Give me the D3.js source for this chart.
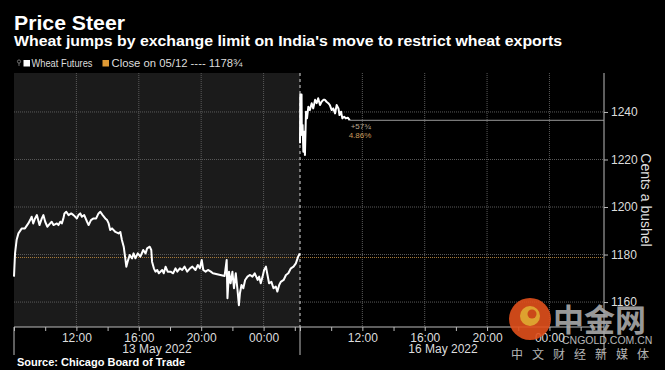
<!DOCTYPE html>
<html><head><meta charset="utf-8">
<script src="https://cdn.jsdelivr.net/npm/d3@7"></script>
<style>
html,body{margin:0;padding:0;background:#000;}
svg{display:block;font-family:"Liberation Sans",Arial,sans-serif;}
</style></head>
<body>
<svg id="c" width="665" height="370"></svg>
<script>
// ---------- data ----------
const titleText = "Price Steer";
const subtitleText = "Wheat jumps by exchange limit on India's move to restrict wheat exports";
const sourceText = "Source: Chicago Board of Trade";
const seriesName = "Wheat Futures";
const refLabel = "Close on 05/12 ---- 1178\u00BE";
const refValue = 1178.75;
const lastValue = 1236.5;
const changeLabels = ["+57\u00BE", "4.86%"];
const yTicks = [1160, 1180, 1200, 1220, 1240];
const yTitle = "Cents a bushel";
const sessionDates = ["2022-05-13", "2022-05-16"];
const sessionLabels = ["13 May 2022", "16 May 2022"];
const sessionStart = ["08:00", "08:00"];
const sessionEnd = ["02:20", "03:30"];

const s1Times = ["08:00","08:04","08:10","08:17","08:30","08:42","08:55","09:02","09:08","09:14","09:21","09:28","09:38","09:47","09:53","10:00","10:08","10:19","10:25","10:32","10:45","10:51","10:58","11:04","11:10","11:14","11:21","11:30","11:40","11:49","12:02","12:08","12:15","12:21","12:30","12:41","12:47","12:56","13:06","13:16","13:25","13:32","13:41","13:51","13:58","14:04","14:10","14:17","14:30","14:42","14:49","14:55","15:02","15:08","15:12","15:17","15:25","15:34","15:40","15:47","15:56","16:06","16:17","16:26","16:32","16:42","16:48","16:51","16:58","17:04","17:11","17:17","17:30","17:36","17:43","17:51","18:02","18:12","18:21","18:28","18:38","18:47","18:56","19:06","19:17","19:26","19:38","19:47","19:55","20:02","20:08","20:17","20:26","20:37","20:45","21:30","21:38","21:41","21:47","21:53","22:00","22:06","22:13","22:19","22:25","22:29","22:35","22:42","22:49","22:58","23:08","23:17","23:26","23:37","23:43","23:49","23:56","00:02","00:09","00:15","00:21","00:30","00:38","00:47","00:53","01:00","01:06","01:17","01:26","01:35","01:45","01:55","02:04","02:13","02:19"];
const s1Values = [1170.7,1180.5,1186.1,1188.9,1191.0,1191.0,1193.1,1194.5,1195.9,1193.1,1195.2,1196.6,1192.4,1195.2,1196.6,1193.8,1191.7,1193.1,1193.8,1192.4,1193.1,1192.4,1193.8,1193.1,1195.2,1197.3,1198.0,1196.6,1197.3,1196.6,1195.2,1196.6,1197.3,1195.9,1196.6,1193.8,1192.4,1194.5,1195.2,1195.2,1197.3,1198.0,1196.6,1195.2,1194.5,1193.1,1190.3,1191.0,1189.5,1188.9,1189.5,1186.1,1183.3,1178.4,1174.9,1177.0,1179.8,1178.4,1180.5,1178.4,1180.5,1179.1,1181.9,1180.5,1182.6,1183.3,1181.9,1177.0,1174.2,1172.8,1173.5,1172.1,1173.5,1172.1,1174.9,1172.8,1172.8,1172.1,1174.2,1172.8,1174.2,1173.5,1174.9,1172.8,1174.2,1174.9,1173.5,1175.6,1174.2,1177.7,1173.5,1172.8,1173.5,1172.8,1172.1,1171.0,1177.7,1161.6,1172.8,1167.9,1172.8,1165.8,1172.1,1165.8,1158.7,1163.7,1167.2,1165.8,1169.3,1170.7,1171.4,1170.7,1172.1,1169.3,1170.7,1167.9,1170.7,1173.5,1174.9,1171.4,1167.9,1168.5,1165.8,1166.5,1164.4,1167.2,1168.5,1169.3,1171.4,1172.1,1174.2,1174.9,1176.3,1179.1,1180.5];

const s2Times = ["08:00","08:01","08:06","08:07","08:10","08:13","08:16","08:19","08:23","08:27","08:32","08:38","08:45","08:51","08:58","09:04","09:10","09:17","09:23","09:30","09:36","09:42","09:49","09:55","10:02","10:08","10:15","10:21","10:28","10:32","10:38","10:43","10:50","10:56","11:04","11:09","11:11"];
const s2Values = [1226.8,1247.4,1247.4,1230.3,1234.5,1223.3,1231.7,1221.9,1240.1,1237.3,1242.2,1240.8,1243.7,1241.5,1245.1,1243.7,1245.8,1242.9,1244.3,1245.1,1245.1,1244.3,1243.7,1242.9,1240.8,1241.5,1239.4,1242.9,1241.5,1238.7,1240.1,1237.3,1238.0,1237.3,1237.6,1236.9,1236.5];

// ---------- helpers ----------
const parse = d3.timeParse("%Y-%m-%d %H:%M");
function toDate(dateStr, hm, startHm) {
  const d = parse(dateStr + " " + hm);
  if (hm < startHm) d.setDate(d.getDate() + 1); // rolls past midnight
  return d;
}
const series = [
  s1Times.map((t,i)=>({t:toDate(sessionDates[0],t,sessionStart[0]), v:s1Values[i]})),
  s2Times.map((t,i)=>({t:toDate(sessionDates[1],t,sessionStart[1]), v:s2Values[i]}))
];

// ---------- layout ----------
const L = 14, M = 300, R = 604, T = 73, B = 327;
const svg = d3.select("#c");
svg.append("rect").attr("width",665).attr("height",370).attr("fill","#000");

const xs = [0,1].map(i => d3.scaleTime()
  .domain([toDate(sessionDates[i], sessionStart[i], sessionStart[i]), toDate(sessionDates[i], sessionEnd[i], sessionStart[i])])
  .range(i===0 ? [L, M] : [M, R]));
const y = d3.scaleLinear().domain([1149.5, 1256.4]).range([B, T]);

// shaded first session
svg.append("rect").attr("x",L).attr("y",T).attr("width",M-L).attr("height",B-T).attr("fill","#1b1b1b");

// grid
const gridCol = "#5a5a5a";
svg.append("g").selectAll("line").data(yTicks).join("line")
  .attr("x1",L).attr("x2",R).attr("y1",d=>y(d)).attr("y2",d=>y(d))
  .attr("stroke",gridCol).attr("stroke-width",1).attr("stroke-dasharray","1,1");

const labelHours = [12,16,20,0];
xs.forEach((x,i)=>{
  const ticks = x.ticks(d3.timeHour.every(2));
  const major = ticks.filter(d => labelHours.includes(d.getHours()));
  svg.append("g").selectAll("line").data(major).join("line")
    .attr("x1",d=>x(d)).attr("x2",d=>x(d)).attr("y1",T).attr("y2",B)
    .attr("stroke",gridCol).attr("stroke-width",1).attr("stroke-dasharray","1,1");
  const ax = d3.axisBottom(x).tickValues(ticks).tickSize(4).tickPadding(2)
    .tickFormat(d => labelHours.includes(d.getHours()) ? d3.timeFormat("%H:%M")(d) : "");
  const g = svg.append("g").attr("transform",`translate(0,${B})`).call(ax);
  g.select(".domain").remove();
  g.selectAll(".tick line").attr("stroke","#bbb");
  g.selectAll("text").attr("fill","#ddd").style("font-size","12px").style("font-family","'Liberation Sans',Arial,sans-serif");
});

// reference line (previous close)
svg.append("line").attr("x1",L).attr("x2",R).attr("y1",y(refValue)).attr("y2",y(refValue))
  .attr("stroke","#a87a3a").attr("stroke-width",1).attr("stroke-dasharray","1,1");

// session separator
svg.append("line").attr("x1",M).attr("x2",M).attr("y1",T).attr("y2",B)
  .attr("stroke","#ddd").attr("stroke-width",1).attr("stroke-dasharray","3,3");

// x axis line and separators
svg.append("line").attr("x1",L).attr("x2",R).attr("y1",B).attr("y2",B).attr("stroke","#bbb");
[L,M,R].forEach(xx=>{
  svg.append("line").attr("x1",xx).attr("x2",xx).attr("y1",B).attr("y2",355).attr("stroke","#bbb");
});
// date labels
svg.append("text").attr("x",(L+M)/2).attr("y",353).attr("text-anchor","middle")
  .attr("fill","#ddd").style("font-size","12px").text(sessionLabels[0]);
svg.append("text").attr("x",443).attr("y",353).attr("text-anchor","middle")
  .attr("fill","#ddd").style("font-size","12px").text(sessionLabels[1]);

// y axis
const ya = d3.axisRight(y).tickValues(yTicks).tickSize(4).tickPadding(3).tickFormat(d3.format("d"));
const gy = svg.append("g").attr("transform",`translate(${R},0)`).call(ya);
gy.select(".domain").remove();
gy.selectAll(".tick line").attr("stroke","#bbb");
gy.selectAll("text").attr("fill","#ddd").style("font-size","12px").style("font-family","'Liberation Sans',Arial,sans-serif");
svg.append("line").attr("x1",R).attr("x2",R).attr("y1",T).attr("y2",B).attr("stroke","#bbb");
svg.append("text").attr("transform",`translate(641,200) rotate(90)`).attr("text-anchor","middle")
  .attr("fill","#ddd").style("font-size","14px").text(yTitle);

// last-value line
const lastPt = series[1][series[1].length-1];
svg.append("line").attr("x1",xs[1](lastPt.t)).attr("x2",R).attr("y1",y(lastValue)).attr("y2",y(lastValue))
  .attr("stroke","#9a9a9a").attr("stroke-width",1);
svg.append("text").attr("x",xs[1](lastPt.t)+1).attr("y",y(lastValue)+9)
  .attr("fill","#b8a690").style("font-size","8px").text(changeLabels[0]);
svg.append("text").attr("x",xs[1](lastPt.t)-1).attr("y",y(lastValue)+18)
  .attr("fill","#c89a5c").style("font-size","8px").text(changeLabels[1]);

// price lines
series.forEach((s,i)=>{
  svg.append("path").datum(s)
    .attr("d", d3.line().x(d=>xs[i](d.t)).y(d=>y(d.v)))
    .attr("fill","none").attr("stroke","#fff").attr("stroke-width",2).attr("stroke-linejoin","round");
});

// titles
svg.append("text").attr("x",14).attr("y",30).attr("fill","#fff")
  .attr("textLength",111).attr("lengthAdjust","spacingAndGlyphs")
  .style("font-size","20px").style("font-weight","bold").text(titleText);
svg.append("text").attr("x",14).attr("y",46).attr("fill","#fff")
  .attr("textLength",548).attr("lengthAdjust","spacingAndGlyphs")
  .style("font-size","15px").style("font-weight","bold").text(subtitleText);

// legend
const lg = svg.append("g").attr("transform","translate(0,63)");
lg.append("circle").attr("cx",19).attr("cy",-1.5).attr("r",1.6).attr("fill","none").attr("stroke","#888").attr("stroke-width",0.8);
lg.append("line").attr("x1",19).attr("x2",19).attr("y1",0).attr("y2",3).attr("stroke","#888").attr("stroke-width",0.8);
lg.append("rect").attr("x",23.5).attr("y",-3).attr("width",6.5).attr("height",6.5).attr("fill","#fff");
lg.append("text").attr("x",31.5).attr("y",3.8).attr("fill","#ddd")
  .attr("textLength",61).attr("lengthAdjust","spacingAndGlyphs").style("font-size","10.5px").text(seriesName);
lg.append("rect").attr("x",102.5).attr("y",-3).attr("width",6.5).attr("height",6.5).attr("fill","#e09a35");
lg.append("text").attr("x",111.5).attr("y",3.8).attr("fill","#ddd")
  .attr("textLength",131).attr("lengthAdjust","spacingAndGlyphs").style("font-size","10.5px").text(refLabel);

// source
svg.append("text").attr("x",17).attr("y",366).attr("fill","#fff")
  .style("font-size","11px").style("font-weight","bold").text(sourceText);

// watermark
const wm = svg.append("g").attr("opacity",0.9);
wm.append("circle").attr("cx",530).attr("cy",319).attr("r",21).attr("fill","#e2501c");
wm.append("circle").attr("cx",530).attr("cy",316).attr("r",10).attr("fill","#f6b335");
wm.append("circle").attr("cx",532).attr("cy",314).attr("r",4.5).attr("fill","#e2501c");
wm.append("text").attr("x",553).attr("y",331).attr("fill","#a9a9a9")
  .style("font-size","31px").style("font-weight","bold").style("font-family","'Noto Sans CJK SC',sans-serif").text("中金网");
wm.append("text").attr("x",562).attr("y",344).attr("fill","#c8c8c8")
  .style("font-size","10.5px").text("CNGOLD.COM.CN");
wm.append("text").attr("x",511).attr("y",359).attr("fill","#c8c8c8")
  .style("font-size","12px").style("letter-spacing","9px").style("font-family","'Noto Sans CJK SC',sans-serif").text("中文财经新媒体");
</script>
</body></html>
